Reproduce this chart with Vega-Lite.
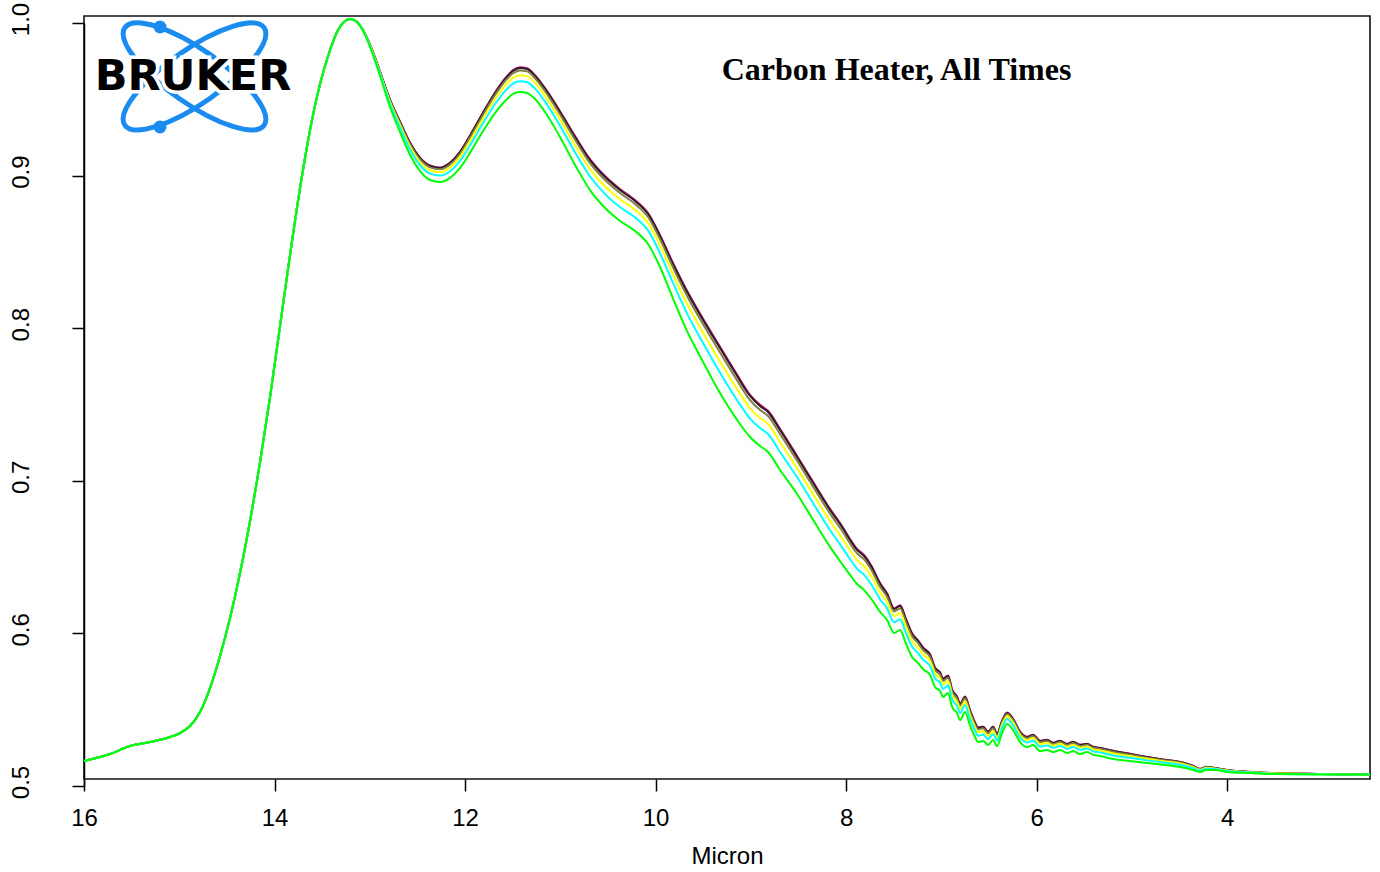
{
  "$schema": "https://vega.github.io/schema/vega-lite/v6.json",
  "autosize": "none",
  "width": 1286,
  "height": 763,
  "padding": {"left": 84, "top": 16, "right": 10, "bottom": 93},
  "background": "white",
  "config": {
    "view": {"stroke": "#111", "strokeWidth": 1.6},
    "axis": {"grid": false}
  },
  "datasets": {
    "curves": [
{"s":"s1","x":16,"y":0.5118},{"s":"s1","x":15.727,"y":0.5164},{"s":"s1","x":15.517,"y":0.5216},{"s":"s1","x":15.307,"y":0.5242},{"s":"s1","x":15.097,"y":0.5275},{"s":"s1","x":14.992,"y":0.5301},{"s":"s1","x":14.887,"y":0.5347},{"s":"s1","x":14.782,"y":0.5439},{"s":"s1","x":14.677,"y":0.5596},{"s":"s1","x":14.572,"y":0.5806},{"s":"s1","x":14.467,"y":0.6055},{"s":"s1","x":14.362,"y":0.635},{"s":"s1","x":14.257,"y":0.6691},{"s":"s1","x":14.152,"y":0.7077},{"s":"s1","x":14.047,"y":0.7503},{"s":"s1","x":13.942,"y":0.7969},{"s":"s1","x":13.837,"y":0.8434},{"s":"s1","x":13.732,"y":0.8873},{"s":"s1","x":13.627,"y":0.9253},{"s":"s1","x":13.522,"y":0.9554},{"s":"s1","x":13.417,"y":0.9777},{"s":"s1","x":13.333,"y":0.9908},
{"s":"s1","x":13.26,"y":0.9967},{"s":"s1","x":13.207,"y":0.998},{"s":"s1","x":13.144,"y":0.9967},{"s":"s1","x":13.071,"y":0.9908},{"s":"s1","x":12.997,"y":0.981},{"s":"s1","x":12.892,"y":0.9634},{"s":"s1","x":12.787,"y":0.9451},{"s":"s1","x":12.682,"y":0.9307},{"s":"s1","x":12.577,"y":0.917},{"s":"s1","x":12.472,"y":0.9072},
{"s":"s1","x":12.367,"y":0.902},{"s":"s1","x":12.262,"y":0.9007},{"s":"s1","x":12.157,"y":0.904},{"s":"s1","x":12.052,"y":0.9112},{"s":"s1","x":11.948,"y":0.9217},{"s":"s1","x":11.811,"y":0.9368},{"s":"s1","x":11.685,"y":0.9499},{"s":"s1","x":11.58,"y":0.9591},{"s":"s1","x":11.496,"y":0.9645},{"s":"s1","x":11.423,"y":0.9664},
{"s":"s1","x":11.349,"y":0.9658},{"s":"s1","x":11.265,"y":0.9612},{"s":"s1","x":11.16,"y":0.9527},{"s":"s1","x":11.003,"y":0.9376},{"s":"s1","x":10.845,"y":0.9213},{"s":"s1","x":10.688,"y":0.9062},{"s":"s1","x":10.53,"y":0.8951},{"s":"s1","x":10.373,"y":0.8866},{"s":"s1","x":10.215,"y":0.8794},{"s":"s1","x":10.079,"y":0.8709},
{"s":"s1","x":9.953,"y":0.8564},{"s":"s1","x":9.827,"y":0.8395},{"s":"s1","x":9.669,"y":0.8199},{"s":"s1","x":9.501,"y":0.8016},{"s":"s1","x":9.323,"y":0.7833},{"s":"s1","x":9.144,"y":0.765},{"s":"s1","x":9.008,"y":0.7518},{"s":"s1","x":8.903,"y":0.7452},{"s":"s1","x":8.819,"y":0.7413},{"s":"s1","x":8.693,"y":0.7295},
{"s":"s1","x":8.514,"y":0.7117},{"s":"s1","x":8.346,"y":0.6947},{"s":"s1","x":8.168,"y":0.677},{"s":"s1","x":8.042,"y":0.6658},{"s":"s1","x":7.958,"y":0.6573},{"s":"s1","x":7.885,"y":0.6508},{"s":"s1","x":7.811,"y":0.6468},{"s":"s1","x":7.727,"y":0.6389},{"s":"s1","x":7.643,"y":0.6284},{"s":"s1","x":7.57,"y":0.6217},
{"s":"s1","x":7.496,"y":0.6119},{"s":"s1","x":7.433,"y":0.6139},{"s":"s1","x":7.37,"y":0.6047},{"s":"s1","x":7.307,"y":0.5955},{"s":"s1","x":7.244,"y":0.5908},{"s":"s1","x":7.192,"y":0.5862},{"s":"s1","x":7.118,"y":0.5817},{"s":"s1","x":7.066,"y":0.5731},{"s":"s1","x":7.013,"y":0.5699},{"s":"s1","x":6.982,"y":0.5659},
{"s":"s1","x":6.929,"y":0.5678},{"s":"s1","x":6.887,"y":0.5586},{"s":"s1","x":6.835,"y":0.554},{"s":"s1","x":6.803,"y":0.5494},{"s":"s1","x":6.751,"y":0.554},{"s":"s1","x":6.698,"y":0.5449},{"s":"s1","x":6.646,"y":0.537},{"s":"s1","x":6.614,"y":0.5337},{"s":"s1","x":6.562,"y":0.5344},{"s":"s1","x":6.509,"y":0.5311},
{"s":"s1","x":6.457,"y":0.5344},{"s":"s1","x":6.415,"y":0.5297},{"s":"s1","x":6.362,"y":0.5382},{"s":"s1","x":6.31,"y":0.5435},{"s":"s1","x":6.247,"y":0.5395},{"s":"s1","x":6.173,"y":0.531},{"s":"s1","x":6.1,"y":0.5277},{"s":"s1","x":6.037,"y":0.529},{"s":"s1","x":5.963,"y":0.5251},{"s":"s1","x":5.89,"y":0.5258},
{"s":"s1","x":5.827,"y":0.5238},{"s":"s1","x":5.753,"y":0.5251},{"s":"s1","x":5.68,"y":0.5231},{"s":"s1","x":5.617,"y":0.5244},{"s":"s1","x":5.543,"y":0.5225},{"s":"s1","x":5.47,"y":0.5231},{"s":"s1","x":5.407,"y":0.5212},{"s":"s1","x":5.333,"y":0.5205},{"s":"s1","x":5.197,"y":0.5185},{"s":"s1","x":5.018,"y":0.5165},
{"s":"s1","x":4.84,"y":0.5145},{"s":"s1","x":4.651,"y":0.5126},{"s":"s1","x":4.493,"y":0.5112},{"s":"s1","x":4.357,"y":0.5086},{"s":"s1","x":4.283,"y":0.5067},{"s":"s1","x":4.22,"y":0.508},{"s":"s1","x":4.126,"y":0.5072},{"s":"s1","x":4,"y":0.5059},{"s":"s1","x":3.759,"y":0.5046},{"s":"s1","x":3.517,"y":0.5039},
{"s":"s1","x":3.024,"y":0.5033},{"s":"s1","x":2.5,"y":0.5029},

{"s":"s2","x":16,"y":0.5118},{"s":"s2","x":15.727,"y":0.5164},{"s":"s2","x":15.517,"y":0.5216},{"s":"s2","x":15.307,"y":0.5242},{"s":"s2","x":15.097,"y":0.5275},{"s":"s2","x":14.992,"y":0.5301},{"s":"s2","x":14.887,"y":0.5347},{"s":"s2","x":14.782,"y":0.5439},{"s":"s2","x":14.677,"y":0.5596},{"s":"s2","x":14.572,"y":0.5806},{"s":"s2","x":14.467,"y":0.6055},{"s":"s2","x":14.362,"y":0.635},{"s":"s2","x":14.257,"y":0.6691},{"s":"s2","x":14.152,"y":0.7077},{"s":"s2","x":14.047,"y":0.7503},{"s":"s2","x":13.942,"y":0.7969},{"s":"s2","x":13.837,"y":0.8434},{"s":"s2","x":13.732,"y":0.8873},{"s":"s2","x":13.627,"y":0.9253},{"s":"s2","x":13.522,"y":0.9554},{"s":"s2","x":13.417,"y":0.9777},{"s":"s2","x":13.333,"y":0.9908},
{"s":"s2","x":13.26,"y":0.9967},{"s":"s2","x":13.207,"y":0.998},{"s":"s2","x":13.144,"y":0.9967},{"s":"s2","x":13.071,"y":0.9908},{"s":"s2","x":12.997,"y":0.981},{"s":"s2","x":12.892,"y":0.9633},{"s":"s2","x":12.787,"y":0.945},{"s":"s2","x":12.682,"y":0.9305},{"s":"s2","x":12.577,"y":0.9168},{"s":"s2","x":12.472,"y":0.9069},
{"s":"s2","x":12.367,"y":0.9017},{"s":"s2","x":12.262,"y":0.9004},{"s":"s2","x":12.157,"y":0.9037},{"s":"s2","x":12.052,"y":0.9109},{"s":"s2","x":11.948,"y":0.9214},{"s":"s2","x":11.811,"y":0.9364},{"s":"s2","x":11.685,"y":0.9495},{"s":"s2","x":11.58,"y":0.9587},{"s":"s2","x":11.496,"y":0.964},{"s":"s2","x":11.423,"y":0.9659},
{"s":"s2","x":11.349,"y":0.9653},{"s":"s2","x":11.265,"y":0.9607},{"s":"s2","x":11.16,"y":0.9522},{"s":"s2","x":11.003,"y":0.9371},{"s":"s2","x":10.845,"y":0.9207},{"s":"s2","x":10.688,"y":0.9056},{"s":"s2","x":10.53,"y":0.8945},{"s":"s2","x":10.373,"y":0.886},{"s":"s2","x":10.215,"y":0.8788},{"s":"s2","x":10.079,"y":0.8703},
{"s":"s2","x":9.953,"y":0.8558},{"s":"s2","x":9.827,"y":0.8388},{"s":"s2","x":9.669,"y":0.8191},{"s":"s2","x":9.501,"y":0.8008},{"s":"s2","x":9.323,"y":0.7824},{"s":"s2","x":9.144,"y":0.7641},{"s":"s2","x":9.008,"y":0.751},{"s":"s2","x":8.903,"y":0.7444},{"s":"s2","x":8.819,"y":0.7405},{"s":"s2","x":8.693,"y":0.7287},
{"s":"s2","x":8.514,"y":0.711},{"s":"s2","x":8.346,"y":0.694},{"s":"s2","x":8.168,"y":0.6763},{"s":"s2","x":8.042,"y":0.6651},{"s":"s2","x":7.958,"y":0.6566},{"s":"s2","x":7.885,"y":0.6501},{"s":"s2","x":7.811,"y":0.6461},{"s":"s2","x":7.727,"y":0.6383},{"s":"s2","x":7.643,"y":0.6278},{"s":"s2","x":7.57,"y":0.6212},
{"s":"s2","x":7.496,"y":0.6114},{"s":"s2","x":7.433,"y":0.6134},{"s":"s2","x":7.37,"y":0.6042},{"s":"s2","x":7.307,"y":0.595},{"s":"s2","x":7.244,"y":0.5904},{"s":"s2","x":7.192,"y":0.5858},{"s":"s2","x":7.118,"y":0.5813},{"s":"s2","x":7.066,"y":0.5727},{"s":"s2","x":7.013,"y":0.5695},{"s":"s2","x":6.982,"y":0.5655},
{"s":"s2","x":6.929,"y":0.5675},{"s":"s2","x":6.887,"y":0.5583},{"s":"s2","x":6.835,"y":0.5537},{"s":"s2","x":6.803,"y":0.5491},{"s":"s2","x":6.751,"y":0.5537},{"s":"s2","x":6.698,"y":0.5446},{"s":"s2","x":6.646,"y":0.5367},{"s":"s2","x":6.614,"y":0.5334},{"s":"s2","x":6.562,"y":0.5341},{"s":"s2","x":6.509,"y":0.5308},
{"s":"s2","x":6.457,"y":0.5341},{"s":"s2","x":6.415,"y":0.5295},{"s":"s2","x":6.362,"y":0.538},{"s":"s2","x":6.31,"y":0.5433},{"s":"s2","x":6.247,"y":0.5393},{"s":"s2","x":6.173,"y":0.5308},{"s":"s2","x":6.1,"y":0.5275},{"s":"s2","x":6.037,"y":0.5288},{"s":"s2","x":5.963,"y":0.5249},{"s":"s2","x":5.89,"y":0.5256},
{"s":"s2","x":5.827,"y":0.5236},{"s":"s2","x":5.753,"y":0.5249},{"s":"s2","x":5.68,"y":0.5229},{"s":"s2","x":5.617,"y":0.5242},{"s":"s2","x":5.543,"y":0.5223},{"s":"s2","x":5.47,"y":0.5229},{"s":"s2","x":5.407,"y":0.521},{"s":"s2","x":5.333,"y":0.5203},{"s":"s2","x":5.197,"y":0.5183},{"s":"s2","x":5.018,"y":0.5164},
{"s":"s2","x":4.84,"y":0.5144},{"s":"s2","x":4.651,"y":0.5125},{"s":"s2","x":4.493,"y":0.5111},{"s":"s2","x":4.357,"y":0.5085},{"s":"s2","x":4.283,"y":0.5066},{"s":"s2","x":4.22,"y":0.5079},{"s":"s2","x":4.126,"y":0.5072},{"s":"s2","x":4,"y":0.5059},{"s":"s2","x":3.759,"y":0.5046},{"s":"s2","x":3.517,"y":0.5039},
{"s":"s2","x":3.024,"y":0.5033},{"s":"s2","x":2.5,"y":0.5029},

{"s":"s3","x":16,"y":0.5118},{"s":"s3","x":15.727,"y":0.5164},{"s":"s3","x":15.517,"y":0.5216},{"s":"s3","x":15.307,"y":0.5242},{"s":"s3","x":15.097,"y":0.5275},{"s":"s3","x":14.992,"y":0.5301},{"s":"s3","x":14.887,"y":0.5347},{"s":"s3","x":14.782,"y":0.5439},{"s":"s3","x":14.677,"y":0.5596},{"s":"s3","x":14.572,"y":0.5806},{"s":"s3","x":14.467,"y":0.6055},{"s":"s3","x":14.362,"y":0.635},{"s":"s3","x":14.257,"y":0.6691},{"s":"s3","x":14.152,"y":0.7077},{"s":"s3","x":14.047,"y":0.7503},{"s":"s3","x":13.942,"y":0.7969},{"s":"s3","x":13.837,"y":0.8434},{"s":"s3","x":13.732,"y":0.8873},{"s":"s3","x":13.627,"y":0.9253},{"s":"s3","x":13.522,"y":0.9554},{"s":"s3","x":13.417,"y":0.9777},{"s":"s3","x":13.333,"y":0.9908},
{"s":"s3","x":13.26,"y":0.9967},{"s":"s3","x":13.207,"y":0.998},{"s":"s3","x":13.144,"y":0.9967},{"s":"s3","x":13.071,"y":0.9908},{"s":"s3","x":12.997,"y":0.9809},{"s":"s3","x":12.892,"y":0.963},{"s":"s3","x":12.787,"y":0.9445},{"s":"s3","x":12.682,"y":0.9298},{"s":"s3","x":12.577,"y":0.916},{"s":"s3","x":12.472,"y":0.906},
{"s":"s3","x":12.367,"y":0.9008},{"s":"s3","x":12.262,"y":0.8995},{"s":"s3","x":12.157,"y":0.9027},{"s":"s3","x":12.052,"y":0.9099},{"s":"s3","x":11.948,"y":0.9203},{"s":"s3","x":11.811,"y":0.9352},{"s":"s3","x":11.685,"y":0.9482},{"s":"s3","x":11.58,"y":0.9573},{"s":"s3","x":11.496,"y":0.9625},{"s":"s3","x":11.423,"y":0.9643},
{"s":"s3","x":11.349,"y":0.9637},{"s":"s3","x":11.265,"y":0.9592},{"s":"s3","x":11.16,"y":0.9507},{"s":"s3","x":11.003,"y":0.9355},{"s":"s3","x":10.845,"y":0.9189},{"s":"s3","x":10.688,"y":0.9036},{"s":"s3","x":10.53,"y":0.8925},{"s":"s3","x":10.373,"y":0.884},{"s":"s3","x":10.215,"y":0.8768},{"s":"s3","x":10.079,"y":0.8683},
{"s":"s3","x":9.953,"y":0.8538},{"s":"s3","x":9.827,"y":0.8366},{"s":"s3","x":9.669,"y":0.8165},{"s":"s3","x":9.501,"y":0.798},{"s":"s3","x":9.323,"y":0.7795},{"s":"s3","x":9.144,"y":0.7612},{"s":"s3","x":9.008,"y":0.7483},{"s":"s3","x":8.903,"y":0.7418},{"s":"s3","x":8.819,"y":0.7379},{"s":"s3","x":8.693,"y":0.7261},
{"s":"s3","x":8.514,"y":0.7086},{"s":"s3","x":8.346,"y":0.6916},{"s":"s3","x":8.168,"y":0.6739},{"s":"s3","x":8.042,"y":0.6627},{"s":"s3","x":7.958,"y":0.6543},{"s":"s3","x":7.885,"y":0.6479},{"s":"s3","x":7.811,"y":0.6439},{"s":"s3","x":7.727,"y":0.6362},{"s":"s3","x":7.643,"y":0.626},{"s":"s3","x":7.57,"y":0.6195},
{"s":"s3","x":7.496,"y":0.6098},{"s":"s3","x":7.433,"y":0.6118},{"s":"s3","x":7.37,"y":0.6026},{"s":"s3","x":7.307,"y":0.5935},{"s":"s3","x":7.244,"y":0.589},{"s":"s3","x":7.192,"y":0.5844},{"s":"s3","x":7.118,"y":0.58},{"s":"s3","x":7.066,"y":0.5715},{"s":"s3","x":7.013,"y":0.5683},{"s":"s3","x":6.982,"y":0.5643},
{"s":"s3","x":6.929,"y":0.5664},{"s":"s3","x":6.887,"y":0.5572},{"s":"s3","x":6.835,"y":0.5527},{"s":"s3","x":6.803,"y":0.5481},{"s":"s3","x":6.751,"y":0.5527},{"s":"s3","x":6.698,"y":0.5436},{"s":"s3","x":6.646,"y":0.5358},{"s":"s3","x":6.614,"y":0.5325},{"s":"s3","x":6.562,"y":0.5332},{"s":"s3","x":6.509,"y":0.5299},
{"s":"s3","x":6.457,"y":0.5332},{"s":"s3","x":6.415,"y":0.5287},{"s":"s3","x":6.362,"y":0.5372},{"s":"s3","x":6.31,"y":0.5426},{"s":"s3","x":6.247,"y":0.5386},{"s":"s3","x":6.173,"y":0.5301},{"s":"s3","x":6.1,"y":0.5268},{"s":"s3","x":6.037,"y":0.5281},{"s":"s3","x":5.963,"y":0.5242},{"s":"s3","x":5.89,"y":0.5249},
{"s":"s3","x":5.827,"y":0.523},{"s":"s3","x":5.753,"y":0.5243},{"s":"s3","x":5.68,"y":0.5223},{"s":"s3","x":5.617,"y":0.5236},{"s":"s3","x":5.543,"y":0.5217},{"s":"s3","x":5.47,"y":0.5224},{"s":"s3","x":5.407,"y":0.5205},{"s":"s3","x":5.333,"y":0.5198},{"s":"s3","x":5.197,"y":0.5178},{"s":"s3","x":5.018,"y":0.5159},
{"s":"s3","x":4.84,"y":0.514},{"s":"s3","x":4.651,"y":0.5122},{"s":"s3","x":4.493,"y":0.5108},{"s":"s3","x":4.357,"y":0.5082},{"s":"s3","x":4.283,"y":0.5064},{"s":"s3","x":4.22,"y":0.5077},{"s":"s3","x":4.126,"y":0.5071},{"s":"s3","x":4,"y":0.5058},{"s":"s3","x":3.759,"y":0.5045},{"s":"s3","x":3.517,"y":0.5038},
{"s":"s3","x":3.024,"y":0.5033},{"s":"s3","x":2.5,"y":0.5029},

{"s":"s4","x":16,"y":0.5118},{"s":"s4","x":15.727,"y":0.5164},{"s":"s4","x":15.517,"y":0.5216},{"s":"s4","x":15.307,"y":0.5242},{"s":"s4","x":15.097,"y":0.5275},{"s":"s4","x":14.992,"y":0.5301},{"s":"s4","x":14.887,"y":0.5347},{"s":"s4","x":14.782,"y":0.5439},{"s":"s4","x":14.677,"y":0.5596},{"s":"s4","x":14.572,"y":0.5806},{"s":"s4","x":14.467,"y":0.6055},{"s":"s4","x":14.362,"y":0.635},{"s":"s4","x":14.257,"y":0.6691},{"s":"s4","x":14.152,"y":0.7077},{"s":"s4","x":14.047,"y":0.7503},{"s":"s4","x":13.942,"y":0.7969},{"s":"s4","x":13.837,"y":0.8434},{"s":"s4","x":13.732,"y":0.8873},{"s":"s4","x":13.627,"y":0.9253},{"s":"s4","x":13.522,"y":0.9554},{"s":"s4","x":13.417,"y":0.9777},{"s":"s4","x":13.333,"y":0.9908},
{"s":"s4","x":13.26,"y":0.9967},{"s":"s4","x":13.207,"y":0.998},{"s":"s4","x":13.144,"y":0.9966},{"s":"s4","x":13.071,"y":0.9907},{"s":"s4","x":12.997,"y":0.9806},{"s":"s4","x":12.892,"y":0.9625},{"s":"s4","x":12.787,"y":0.9436},{"s":"s4","x":12.682,"y":0.9285},{"s":"s4","x":12.577,"y":0.9144},{"s":"s4","x":12.472,"y":0.9043},
{"s":"s4","x":12.367,"y":0.8989},{"s":"s4","x":12.262,"y":0.8976},{"s":"s4","x":12.157,"y":0.9008},{"s":"s4","x":12.052,"y":0.9078},{"s":"s4","x":11.948,"y":0.9181},{"s":"s4","x":11.811,"y":0.9329},{"s":"s4","x":11.685,"y":0.9456},{"s":"s4","x":11.58,"y":0.9544},{"s":"s4","x":11.496,"y":0.9595},{"s":"s4","x":11.423,"y":0.9612},
{"s":"s4","x":11.349,"y":0.9606},{"s":"s4","x":11.265,"y":0.9562},{"s":"s4","x":11.16,"y":0.9477},{"s":"s4","x":11.003,"y":0.9322},{"s":"s4","x":10.845,"y":0.9152},{"s":"s4","x":10.688,"y":0.8997},{"s":"s4","x":10.53,"y":0.8884},{"s":"s4","x":10.373,"y":0.8799},{"s":"s4","x":10.215,"y":0.8729},{"s":"s4","x":10.079,"y":0.8644},
{"s":"s4","x":9.953,"y":0.8497},{"s":"s4","x":9.827,"y":0.8321},{"s":"s4","x":9.669,"y":0.8114},{"s":"s4","x":9.501,"y":0.7925},{"s":"s4","x":9.323,"y":0.7736},{"s":"s4","x":9.144,"y":0.7555},{"s":"s4","x":9.008,"y":0.7429},{"s":"s4","x":8.903,"y":0.7365},{"s":"s4","x":8.819,"y":0.7326},{"s":"s4","x":8.693,"y":0.7208},
{"s":"s4","x":8.514,"y":0.7037},{"s":"s4","x":8.346,"y":0.6867},{"s":"s4","x":8.168,"y":0.669},{"s":"s4","x":8.042,"y":0.6578},{"s":"s4","x":7.958,"y":0.6497},{"s":"s4","x":7.885,"y":0.6434},{"s":"s4","x":7.811,"y":0.6394},{"s":"s4","x":7.727,"y":0.632},{"s":"s4","x":7.643,"y":0.6223},{"s":"s4","x":7.57,"y":0.6161},
{"s":"s4","x":7.496,"y":0.6067},{"s":"s4","x":7.433,"y":0.6087},{"s":"s4","x":7.37,"y":0.5995},{"s":"s4","x":7.307,"y":0.5905},{"s":"s4","x":7.244,"y":0.5861},{"s":"s4","x":7.192,"y":0.5817},{"s":"s4","x":7.118,"y":0.5774},{"s":"s4","x":7.066,"y":0.569},{"s":"s4","x":7.013,"y":0.566},{"s":"s4","x":6.982,"y":0.562},
{"s":"s4","x":6.929,"y":0.5642},{"s":"s4","x":6.887,"y":0.555},{"s":"s4","x":6.835,"y":0.5506},{"s":"s4","x":6.803,"y":0.546},{"s":"s4","x":6.751,"y":0.5508},{"s":"s4","x":6.698,"y":0.5417},{"s":"s4","x":6.646,"y":0.5339},{"s":"s4","x":6.614,"y":0.5306},{"s":"s4","x":6.562,"y":0.5313},{"s":"s4","x":6.509,"y":0.5282},
{"s":"s4","x":6.457,"y":0.5315},{"s":"s4","x":6.415,"y":0.5271},{"s":"s4","x":6.362,"y":0.5356},{"s":"s4","x":6.31,"y":0.5411},{"s":"s4","x":6.247,"y":0.5371},{"s":"s4","x":6.173,"y":0.5288},{"s":"s4","x":6.1,"y":0.5255},{"s":"s4","x":6.037,"y":0.5268},{"s":"s4","x":5.963,"y":0.5229},{"s":"s4","x":5.89,"y":0.5236},
{"s":"s4","x":5.827,"y":0.5218},{"s":"s4","x":5.753,"y":0.5231},{"s":"s4","x":5.68,"y":0.5211},{"s":"s4","x":5.617,"y":0.5224},{"s":"s4","x":5.543,"y":0.5205},{"s":"s4","x":5.47,"y":0.5213},{"s":"s4","x":5.407,"y":0.5194},{"s":"s4","x":5.333,"y":0.5187},{"s":"s4","x":5.197,"y":0.5167},{"s":"s4","x":5.018,"y":0.515},
{"s":"s4","x":4.84,"y":0.5132},{"s":"s4","x":4.651,"y":0.5115},{"s":"s4","x":4.493,"y":0.5101},{"s":"s4","x":4.357,"y":0.5077},{"s":"s4","x":4.283,"y":0.506},{"s":"s4","x":4.22,"y":0.5073},{"s":"s4","x":4.126,"y":0.5068},{"s":"s4","x":4,"y":0.5055},{"s":"s4","x":3.759,"y":0.5044},{"s":"s4","x":3.517,"y":0.5037},
{"s":"s4","x":3.024,"y":0.5032},{"s":"s4","x":2.5,"y":0.5029},

{"s":"s5","x":16,"y":0.5118},{"s":"s5","x":15.727,"y":0.5164},{"s":"s5","x":15.517,"y":0.5216},{"s":"s5","x":15.307,"y":0.5242},{"s":"s5","x":15.097,"y":0.5275},{"s":"s5","x":14.992,"y":0.5301},{"s":"s5","x":14.887,"y":0.5347},{"s":"s5","x":14.782,"y":0.5439},{"s":"s5","x":14.677,"y":0.5596},{"s":"s5","x":14.572,"y":0.5806},{"s":"s5","x":14.467,"y":0.6055},{"s":"s5","x":14.362,"y":0.635},{"s":"s5","x":14.257,"y":0.6691},{"s":"s5","x":14.152,"y":0.7077},{"s":"s5","x":14.047,"y":0.7503},{"s":"s5","x":13.942,"y":0.7969},{"s":"s5","x":13.837,"y":0.8434},{"s":"s5","x":13.732,"y":0.8873},{"s":"s5","x":13.627,"y":0.9253},{"s":"s5","x":13.522,"y":0.9554},{"s":"s5","x":13.417,"y":0.9777},{"s":"s5","x":13.333,"y":0.9908},
{"s":"s5","x":13.26,"y":0.9967},{"s":"s5","x":13.207,"y":0.998},{"s":"s5","x":13.144,"y":0.9966},{"s":"s5","x":13.071,"y":0.9905},{"s":"s5","x":12.997,"y":0.9803},{"s":"s5","x":12.892,"y":0.9619},{"s":"s5","x":12.787,"y":0.9425},{"s":"s5","x":12.682,"y":0.9269},{"s":"s5","x":12.577,"y":0.9125},{"s":"s5","x":12.472,"y":0.9022},
{"s":"s5","x":12.367,"y":0.8967},{"s":"s5","x":12.262,"y":0.8954},{"s":"s5","x":12.157,"y":0.8983},{"s":"s5","x":12.052,"y":0.9051},{"s":"s5","x":11.948,"y":0.9153},{"s":"s5","x":11.811,"y":0.9299},{"s":"s5","x":11.685,"y":0.9423},{"s":"s5","x":11.58,"y":0.9508},{"s":"s5","x":11.496,"y":0.9557},{"s":"s5","x":11.423,"y":0.9572},
{"s":"s5","x":11.349,"y":0.9566},{"s":"s5","x":11.265,"y":0.9524},{"s":"s5","x":11.16,"y":0.9439},{"s":"s5","x":11.003,"y":0.9281},{"s":"s5","x":10.845,"y":0.9106},{"s":"s5","x":10.688,"y":0.8948},{"s":"s5","x":10.53,"y":0.8833},{"s":"s5","x":10.373,"y":0.8748},{"s":"s5","x":10.215,"y":0.868},{"s":"s5","x":10.079,"y":0.8595},
{"s":"s5","x":9.953,"y":0.8446},{"s":"s5","x":9.827,"y":0.8265},{"s":"s5","x":9.669,"y":0.805},{"s":"s5","x":9.501,"y":0.7857},{"s":"s5","x":9.323,"y":0.7662},{"s":"s5","x":9.144,"y":0.7482},{"s":"s5","x":9.008,"y":0.7362},{"s":"s5","x":8.903,"y":0.73},{"s":"s5","x":8.819,"y":0.7261},{"s":"s5","x":8.693,"y":0.7143},
{"s":"s5","x":8.514,"y":0.6977},{"s":"s5","x":8.346,"y":0.6807},{"s":"s5","x":8.168,"y":0.663},{"s":"s5","x":8.042,"y":0.6518},{"s":"s5","x":7.958,"y":0.644},{"s":"s5","x":7.885,"y":0.6378},{"s":"s5","x":7.811,"y":0.6338},{"s":"s5","x":7.727,"y":0.6268},{"s":"s5","x":7.643,"y":0.6177},{"s":"s5","x":7.57,"y":0.6118},
{"s":"s5","x":7.496,"y":0.6027},{"s":"s5","x":7.433,"y":0.6047},{"s":"s5","x":7.37,"y":0.5955},{"s":"s5","x":7.307,"y":0.5867},{"s":"s5","x":7.244,"y":0.5825},{"s":"s5","x":7.192,"y":0.5782},{"s":"s5","x":7.118,"y":0.5741},{"s":"s5","x":7.066,"y":0.5659},{"s":"s5","x":7.013,"y":0.563},{"s":"s5","x":6.982,"y":0.559},
{"s":"s5","x":6.929,"y":0.5614},{"s":"s5","x":6.887,"y":0.5522},{"s":"s5","x":6.835,"y":0.5479},{"s":"s5","x":6.803,"y":0.5433},{"s":"s5","x":6.751,"y":0.5483},{"s":"s5","x":6.698,"y":0.5392},{"s":"s5","x":6.646,"y":0.5317},{"s":"s5","x":6.614,"y":0.5284},{"s":"s5","x":6.562,"y":0.5291},{"s":"s5","x":6.509,"y":0.5261},
{"s":"s5","x":6.457,"y":0.5294},{"s":"s5","x":6.415,"y":0.5252},{"s":"s5","x":6.362,"y":0.5337},{"s":"s5","x":6.31,"y":0.5393},{"s":"s5","x":6.247,"y":0.5353},{"s":"s5","x":6.173,"y":0.5272},{"s":"s5","x":6.1,"y":0.5239},{"s":"s5","x":6.037,"y":0.5252},{"s":"s5","x":5.963,"y":0.5213},{"s":"s5","x":5.89,"y":0.522},
{"s":"s5","x":5.827,"y":0.5204},{"s":"s5","x":5.753,"y":0.5217},{"s":"s5","x":5.68,"y":0.5197},{"s":"s5","x":5.617,"y":0.521},{"s":"s5","x":5.543,"y":0.5191},{"s":"s5","x":5.47,"y":0.52},{"s":"s5","x":5.407,"y":0.5181},{"s":"s5","x":5.333,"y":0.5174},{"s":"s5","x":5.197,"y":0.5154},{"s":"s5","x":5.018,"y":0.5139},
{"s":"s5","x":4.84,"y":0.5122},{"s":"s5","x":4.651,"y":0.5107},{"s":"s5","x":4.493,"y":0.5093},{"s":"s5","x":4.357,"y":0.5071},{"s":"s5","x":4.283,"y":0.5055},{"s":"s5","x":4.22,"y":0.5068},{"s":"s5","x":4.126,"y":0.5065},{"s":"s5","x":4,"y":0.5052},{"s":"s5","x":3.759,"y":0.5042},{"s":"s5","x":3.517,"y":0.5035},
{"s":"s5","x":3.024,"y":0.5031},{"s":"s5","x":2.5,"y":0.5029},

{"s":"s6","x":16,"y":0.5118},{"s":"s6","x":15.727,"y":0.5164},{"s":"s6","x":15.517,"y":0.5216},{"s":"s6","x":15.307,"y":0.5242},{"s":"s6","x":15.097,"y":0.5275},{"s":"s6","x":14.992,"y":0.5301},{"s":"s6","x":14.887,"y":0.5347},{"s":"s6","x":14.782,"y":0.5439},{"s":"s6","x":14.677,"y":0.5596},{"s":"s6","x":14.572,"y":0.5806},{"s":"s6","x":14.467,"y":0.6055},{"s":"s6","x":14.362,"y":0.635},{"s":"s6","x":14.257,"y":0.6691},{"s":"s6","x":14.152,"y":0.7077},{"s":"s6","x":14.047,"y":0.7503},{"s":"s6","x":13.942,"y":0.7969},{"s":"s6","x":13.837,"y":0.8434},{"s":"s6","x":13.732,"y":0.8873},{"s":"s6","x":13.627,"y":0.9253},{"s":"s6","x":13.522,"y":0.9554},{"s":"s6","x":13.417,"y":0.9777},{"s":"s6","x":13.333,"y":0.9908},
{"s":"s6","x":13.26,"y":0.9967},{"s":"s6","x":13.207,"y":0.998},{"s":"s6","x":13.144,"y":0.9965},{"s":"s6","x":13.071,"y":0.9903},{"s":"s6","x":12.997,"y":0.9797},{"s":"s6","x":12.892,"y":0.9607},{"s":"s6","x":12.787,"y":0.9404},{"s":"s6","x":12.682,"y":0.9239},{"s":"s6","x":12.577,"y":0.9089},{"s":"s6","x":12.472,"y":0.8984},
{"s":"s6","x":12.367,"y":0.8925},{"s":"s6","x":12.262,"y":0.8912},{"s":"s6","x":12.157,"y":0.8939},{"s":"s6","x":12.052,"y":0.9004},{"s":"s6","x":11.948,"y":0.9103},{"s":"s6","x":11.811,"y":0.9246},{"s":"s6","x":11.685,"y":0.9364},{"s":"s6","x":11.58,"y":0.9443},{"s":"s6","x":11.496,"y":0.9489},{"s":"s6","x":11.423,"y":0.9502},
{"s":"s6","x":11.349,"y":0.9496},{"s":"s6","x":11.265,"y":0.9456},{"s":"s6","x":11.16,"y":0.9371},{"s":"s6","x":11.003,"y":0.9207},{"s":"s6","x":10.845,"y":0.9024},{"s":"s6","x":10.688,"y":0.8859},{"s":"s6","x":10.53,"y":0.8742},{"s":"s6","x":10.373,"y":0.8657},{"s":"s6","x":10.215,"y":0.8591},{"s":"s6","x":10.079,"y":0.8506},
{"s":"s6","x":9.953,"y":0.8355},{"s":"s6","x":9.827,"y":0.8165},{"s":"s6","x":9.669,"y":0.7935},{"s":"s6","x":9.501,"y":0.7733},{"s":"s6","x":9.323,"y":0.7529},{"s":"s6","x":9.144,"y":0.7353},{"s":"s6","x":9.008,"y":0.7241},{"s":"s6","x":8.903,"y":0.7182},{"s":"s6","x":8.819,"y":0.7143},{"s":"s6","x":8.693,"y":0.7025},
{"s":"s6","x":8.514,"y":0.6868},{"s":"s6","x":8.346,"y":0.6698},{"s":"s6","x":8.168,"y":0.6521},{"s":"s6","x":8.042,"y":0.6409},{"s":"s6","x":7.958,"y":0.6337},{"s":"s6","x":7.885,"y":0.6278},{"s":"s6","x":7.811,"y":0.6238},{"s":"s6","x":7.727,"y":0.6173},{"s":"s6","x":7.643,"y":0.6095},{"s":"s6","x":7.57,"y":0.6042},
{"s":"s6","x":7.496,"y":0.5957},{"s":"s6","x":7.433,"y":0.5977},{"s":"s6","x":7.37,"y":0.5885},{"s":"s6","x":7.307,"y":0.5799},{"s":"s6","x":7.244,"y":0.576},{"s":"s6","x":7.192,"y":0.572},{"s":"s6","x":7.118,"y":0.5682},{"s":"s6","x":7.066,"y":0.5603},{"s":"s6","x":7.013,"y":0.5577},{"s":"s6","x":6.982,"y":0.5537},
{"s":"s6","x":6.929,"y":0.5564},{"s":"s6","x":6.887,"y":0.5472},{"s":"s6","x":6.835,"y":0.5432},{"s":"s6","x":6.803,"y":0.5386},{"s":"s6","x":6.751,"y":0.5439},{"s":"s6","x":6.698,"y":0.5348},{"s":"s6","x":6.646,"y":0.5275},{"s":"s6","x":6.614,"y":0.5242},{"s":"s6","x":6.562,"y":0.5249},{"s":"s6","x":6.509,"y":0.5223},
{"s":"s6","x":6.457,"y":0.5256},{"s":"s6","x":6.415,"y":0.5216},{"s":"s6","x":6.362,"y":0.5301},{"s":"s6","x":6.31,"y":0.5361},{"s":"s6","x":6.247,"y":0.5321},{"s":"s6","x":6.173,"y":0.5242},{"s":"s6","x":6.1,"y":0.5209},{"s":"s6","x":6.037,"y":0.5222},{"s":"s6","x":5.963,"y":0.5183},{"s":"s6","x":5.89,"y":0.519},
{"s":"s6","x":5.827,"y":0.5177},{"s":"s6","x":5.753,"y":0.519},{"s":"s6","x":5.68,"y":0.517},{"s":"s6","x":5.617,"y":0.5183},{"s":"s6","x":5.543,"y":0.5164},{"s":"s6","x":5.47,"y":0.5177},{"s":"s6","x":5.407,"y":0.5158},{"s":"s6","x":5.333,"y":0.5151},{"s":"s6","x":5.197,"y":0.5131},{"s":"s6","x":5.018,"y":0.5118},
{"s":"s6","x":4.84,"y":0.5105},{"s":"s6","x":4.651,"y":0.5092},{"s":"s6","x":4.493,"y":0.5078},{"s":"s6","x":4.357,"y":0.5059},{"s":"s6","x":4.283,"y":0.5046},{"s":"s6","x":4.22,"y":0.5059},{"s":"s6","x":4.126,"y":0.5059},{"s":"s6","x":4,"y":0.5046},{"s":"s6","x":3.759,"y":0.5039},{"s":"s6","x":3.517,"y":0.5032},
{"s":"s6","x":3.024,"y":0.503},{"s":"s6","x":2.5,"y":0.5029}
    ],
    "orbits": [{"x": 14.84, "y": 0.9604}],
    "dots": [{"x": 15.202, "y": 0.9928}, {"x": 15.202, "y": 0.9273}],
    "brand": [{"x": 14.856, "y": 0.9515, "label": "BRUKER"}],
    "heading": [{"x": 7.47, "y": 0.9581, "label": "Carbon Heater, All Times"}]
  },
  "encoding": {
    "x": {
      "field": "x", "type": "quantitative",
      "scale": {"domain": [2.5, 16], "reverse": true, "nice": false, "zero": false},
      "axis": {
        "values": [16, 14, 12, 10, 8, 6, 4], "format": "d", "title": "Micron",
        "grid": false, "domain": false, "tickSize": 12, "tickWidth": 1.5, "tickColor": "#000",
        "labelFont": "Liberation Sans", "labelFontSize": 24, "labelColor": "#000", "labelPadding": 15,
        "labelFlush": false, "labelOverlap": false,
        "titleFont": "Liberation Sans", "titleFontSize": 24, "titleFontWeight": "normal", "titleColor": "#000", "titlePadding": 14
      }
    },
    "y": {
      "field": "y", "type": "quantitative",
      "scale": {"domain": [0.5, 1.0], "nice": false, "zero": false},
      "axis": {
        "values": [0.5, 0.6, 0.7, 0.8, 0.9, 1.0], "format": ".1f", "title": null,
        "grid": false, "domain": true, "domainColor": "#000", "domainWidth": 1.5, "position": 7,
        "tickSize": 12, "tickWidth": 1.5, "tickColor": "#000",
        "labelAngle": 270, "labelAlign": "center", "labelBaseline": "bottom", "labelPadding": 39, "labelOffset": -4,
        "labelFont": "Liberation Sans", "labelFontSize": 24, "labelColor": "#000",
        "labelFlush": false, "labelOverlap": false, "labelBound": false
      }
    }
  },
  "layer": [
    {
      "data": {"name": "curves"},
      "mark": {"type": "line", "strokeWidth": 2, "interpolate": "monotone"},
      "encoding": {
        "color": {
          "field": "s", "type": "nominal", "legend": null,
          "scale": {"domain": ["s1", "s2", "s3", "s4", "s5", "s6"], "range": ["#cc2277", "#301830", "#7f7f3f", "#ffff00", "#00ffff", "#00ff00"]}
        },
        "order": {"field": "x", "sort": "descending"}
      }
    },
    {
      "data": {"name": "orbits"},
      "mark": {
        "type": "point",
        "shape": "M -0.6963 -0.4875 A 0.85 0.27 35 0 1 0.6963 0.4875 A 0.85 0.27 35 0 1 -0.6963 -0.4875 Z M -0.6963 0.4875 A 0.85 0.27 -35 0 1 0.6963 -0.4875 A 0.85 0.27 -35 0 1 -0.6963 0.4875 Z",
        "size": 40000, "filled": false, "stroke": "#1a8cf0", "strokeWidth": 5, "opacity": 1
      }
    },
    {
      "data": {"name": "dots"},
      "mark": {"type": "point", "shape": "circle", "filled": true, "size": 169, "color": "#1a8cf0", "opacity": 1}
    },
    {
      "data": {"name": "brand"},
      "mark": {"type": "text", "font": "DejaVu Sans", "fontWeight": "bold", "fontSize": 43, "align": "center", "baseline": "alphabetic", "fill": "white", "stroke": "white", "strokeWidth": 7},
      "encoding": {"text": {"field": "label"}}
    },
    {
      "data": {"name": "brand"},
      "mark": {"type": "text", "font": "DejaVu Sans", "fontWeight": "bold", "fontSize": 43, "align": "center", "baseline": "alphabetic", "fill": "black"},
      "encoding": {"text": {"field": "label"}}
    },
    {
      "data": {"name": "heading"},
      "mark": {"type": "text", "font": "Liberation Serif", "fontWeight": "bold", "fontSize": 32, "align": "center", "baseline": "alphabetic", "fill": "black"},
      "encoding": {"text": {"field": "label"}}
    }
  ]
}
